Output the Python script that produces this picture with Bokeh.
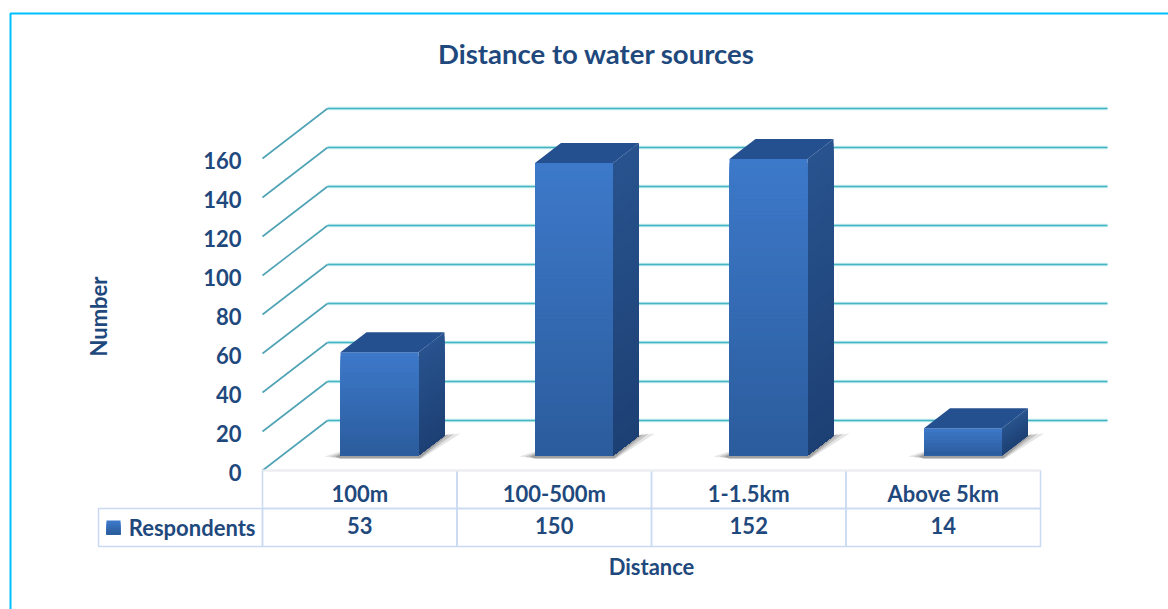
from bokeh.plotting import figure
from bokeh.models import LinearAxis, FixedTicker, BoxAnnotation, Label, Range1d
from bokeh.embed import file_html
from bokeh.resources import INLINE

categories = ["100m", "100-500m", "1-1.5km", "Above 5km"]
respondents = [53, 150, 152, 14]
y_ticks = [0, 20, 40, 60, 80, 100, 120, 140, 160]

FONT = "Lato"
TEXT = "#1F497D"
FS = "22px"

# layout (px)
W, H = 1168, 609
L, B = 262, 470                      # where the value axis meets the category axis
UX = 194.5                           # px per category
UY = 1.95                            # px per respondent
DEPTH_X, DEPTH_Y = 65 / UX, 50 / UY  # depth of the 3D floor in data units
BAR_W = 78 / UX
BAR_DX, BAR_DY = 26 / UX, 20 / UY
BASE_DY = 15 / UY
BAR_LEFT = 78 / UX - 0.5             # left of the bar front, relative to the category index


def dx(x):
    return (x - L) / UX - 0.5


def dy(y):
    return (B - y) / UY


p = figure(width=W, height=H, output_backend="svg", toolbar_location=None,
           x_range=Range1d(dx(0), dx(W)), y_range=Range1d(dy(H), dy(0)),
           min_border_left=0, min_border_right=0, min_border_top=0, min_border_bottom=0,
           x_axis_type=None, y_axis_type=None,
           background_fill_color="white", border_fill_color="white",
           outline_line_color=None)
p.grid.visible = False
# the value labels sit 2px under their gridline corners
p.extra_y_ranges = {"labels": Range1d(dy(H - 2), dy(-2))}


def style_axis(ax):
    ax.axis_line_color = None
    ax.major_tick_line_color = None
    ax.minor_tick_line_color = None
    ax.major_tick_out = 0
    ax.major_label_text_font = FONT
    ax.major_label_text_font_size = FS
    ax.major_label_text_font_style = "bold"
    ax.major_label_text_color = TEXT


yaxis = LinearAxis(ticker=FixedTicker(ticks=y_ticks), y_range_name="labels", fixed_location=-0.5)
style_axis(yaxis)
yaxis.major_label_standoff = 21
p.add_layout(yaxis, "left")

xs = list(range(len(categories)))
axis_cat = LinearAxis(ticker=FixedTicker(ticks=xs), fixed_location=0,
                      major_label_overrides={i: c for i, c in zip(xs, categories)})
style_axis(axis_cat)
axis_cat.major_label_standoff = 9
p.add_layout(axis_cat, "below")

axis_val = LinearAxis(ticker=FixedTicker(ticks=xs), fixed_location=dy(508),
                      major_label_overrides={i: str(v) for i, v in zip(xs, respondents)})
style_axis(axis_val)
axis_val.major_label_standoff = 8
p.add_layout(axis_val, "below")

# outer cyan frame of the picture
p.add_layout(BoxAnnotation(left=dx(10), top=dy(13), right=dx(1300), bottom=dy(700),
                           fill_alpha=0, line_color="#00BFFF", line_alpha=1, line_width=2))

# walls: gridlines on the back plane and the diagonals on the side plane
x0 = -0.5
x_back = x0 + DEPTH_X
x_end = dx(1107)
gy = [v + DEPTH_Y for v in y_ticks]
n_t = len(y_ticks)
p.segment(x0=[x_back] * n_t, x1=[x_end] * n_t, y0=gy, y1=gy,
          line_color="#BDE8EE", line_width=3.5, line_alpha=0.8)
p.segment(x0=[x_back] * n_t, x1=[x_end] * n_t, y0=gy, y1=gy,
          line_color="#45B5C2", line_width=1.4)
p.segment(x0=[x0] * n_t, x1=[x_back] * n_t, y0=y_ticks, y1=gy,
          line_color="#4FA3B5", line_width=1.6)


def mix(c1, c2, t):
    a = [int(c1[i:i + 2], 16) for i in (1, 3, 5)]
    b = [int(c2[i:i + 2], 16) for i in (1, 3, 5)]
    return "#%02x%02x%02x" % tuple(round(u + (w - u) * t) for u, w in zip(a, b))


# soft shadows on the floor
ppx, ppy = 1 / UX, 1 / UY
for i, v in enumerate(respondents):
    xl = i + BAR_LEFT
    base = BASE_DY
    for grow, alpha in ((16, 0.14), (10, 0.20), (5, 0.28)):
        off = [(-grow, -1), (0, grow * 0.25), (78 + 26, 20), (78 + 26 + grow, 22),
               (78 + grow * 0.2, -3), (0, -3)]
        p.patch(x=[xl + a * ppx for a, _ in off], y=[base + b * ppy for _, b in off],
                fill_color="#444444", fill_alpha=alpha, line_color=None)

# 3D bars, the gradients are painted from the tallest slice down
STEP = 4 * ppy
for i, v in enumerate(respondents):
    xl = i + BAR_LEFT
    xr = xl + BAR_W
    base = BASE_DY
    n = max(1, round(v / STEP))
    for k in range(n - 1, -1, -1):
        y1 = base + v * (k + 1) / n
        c = mix("#1D4074", "#28538E", (k + 0.5) / n)
        p.patch(x=[xr, xr + BAR_DX, xr + BAR_DX, xr],
                y=[base, base + BAR_DY, y1 + BAR_DY, y1],
                fill_color=c, line_color=None)
    for k in range(n - 1, -1, -1):
        y1 = base + v * (k + 1) / n
        c = mix("#2B5C9C", "#3D79CA", (k + 0.5) / n)
        p.quad(left=xl, right=xr, bottom=base, top=y1, fill_color=c, line_color=None)
    top = base + v
    p.patch(x=[xl, xl + BAR_DX, xr + BAR_DX, xr],
            y=[top, top + BAR_DY, top + BAR_DY, top],
            fill_color="#24508F", line_color=None)

# data table below the plot
GRID = "#C9DAF2"
ROWS = [(470, 508), (508, 546)]
for i in xs:
    for t_px, b_px in ROWS:
        p.add_layout(BoxAnnotation(left=i - 0.5, right=i + 0.5, top=dy(t_px), bottom=dy(b_px),
                                   fill_alpha=0, line_color=GRID, line_alpha=1, line_width=1.5))
p.add_layout(BoxAnnotation(left=dx(98), right=dx(262), top=dy(508), bottom=dy(546),
                           fill_alpha=0, line_color=GRID, line_alpha=1, line_width=1.5))
p.add_layout(BoxAnnotation(left=dx(262), right=dx(1040), top=dy(469), bottom=dy(471),
                           fill_color="#EDEDED", fill_alpha=1, line_color=None))

# legend key and row title
SW_T, SW_H = 520, 14
for k in range(7):
    c = mix("#3D79CA", "#2B5C9C", k / 6)
    p.add_layout(BoxAnnotation(left=dx(106), right=dx(120),
                               top=dy(SW_T + k * SW_H / 7), bottom=dy(SW_T + SW_H),
                               fill_color=c, fill_alpha=1, line_color=None))


def label(text, x, y, angle=0, align="center", size=FS):
    p.add_layout(Label(x=dx(x), y=dy(y), text=text,
                       angle=angle, angle_units="deg", text_align=align,
                       text_baseline="middle", text_font=FONT, text_font_size=size,
                       text_font_style="bold", text_color=TEXT))


label("Distance to water sources", 596, 53, size="27.5px")
label("Respondents", 255, 527, align="right")
label("Number", 98, 316, angle=90)
label("Distance", 651, 566)

open("out.html", "w").write(file_html(p, INLINE))
